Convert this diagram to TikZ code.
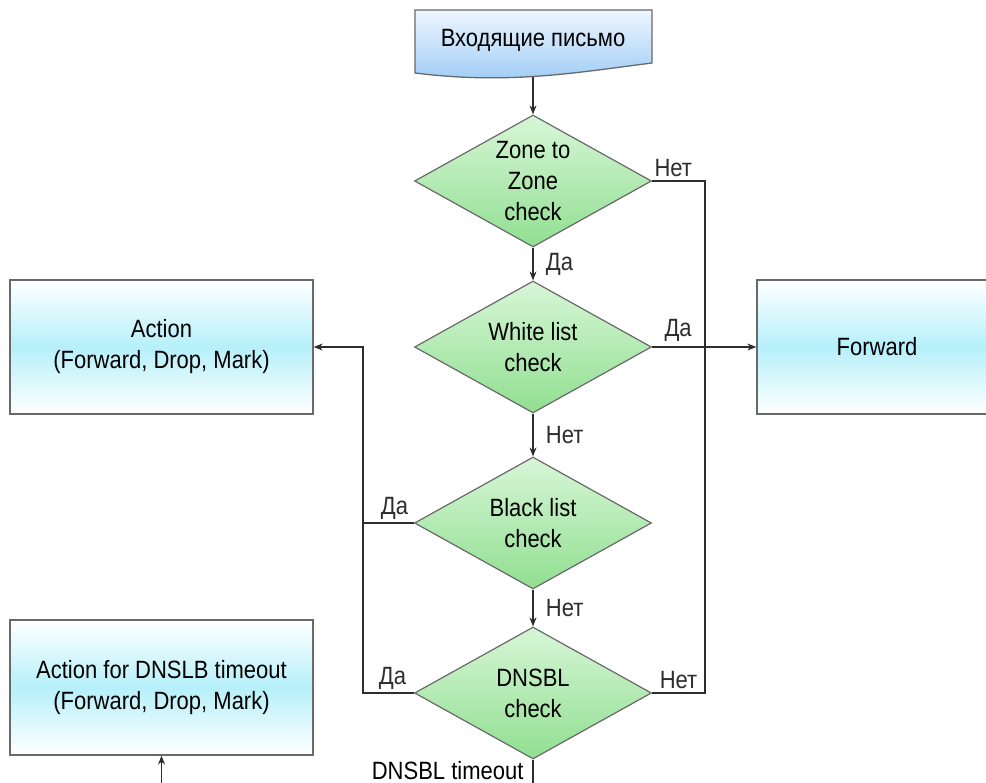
\documentclass[tikz,border=0pt]{standalone}
\usepackage{fontspec}
\setmainfont[FakeStretch=0.88]{Liberation Sans}
\usetikzlibrary{shapes.geometric,arrows.meta}

\begin{document}
\begin{tikzpicture}[x=1pt,y=-1pt,
    every node/.style={font=\fontsize{25}{31}\selectfont},
    box/.style={draw=my_gray,line width=1.3pt,minimum width=303pt,minimum height=134pt,
        align=center,top color=white,bottom color=white,middle color=my_cyan},
    decision/.style={diamond,draw=my_gray,line width=1.2pt,minimum width=237pt,minimum height=132pt,
        aspect=1.8,inner sep=0pt,align=center,top color=my_green_light,bottom color=my_green},
    flow/.style={-{Stealth[length=9pt,width=7pt]},line width=1.1pt,my_gray_dark},
    line/.style={line width=1.1pt,my_gray_dark}]
\definecolor{my_gray}{RGB}{105,105,105}
\definecolor{my_gray_dark}{RGB}{45,45,45}
\definecolor{my_cyan}{RGB}{182,240,250}
\definecolor{my_green}{RGB}{145,223,145}
\definecolor{my_green_light}{RGB}{215,246,215}
\definecolor{my_blue}{RGB}{155,202,245}
\definecolor{my_blue_light}{RGB}{238,246,255}

\useasboundingbox (0,0) rectangle (986,783);
\clip (0,0) rectangle (986,783);

% incoming mail (document shape)
\shade[top color=my_blue_light,bottom color=my_blue,draw=my_gray,line width=1.3pt]
    (415,10) -- (652,10) -- (652,63) .. controls (580,72) and (510,85) .. (415,73) -- cycle;
\node (inbox) at (533,40) {Входящие письмо};
\coordinate (mailend) at (533,77);

\foreach \nm/\y/\txt in {zone/181/{Zone to\\Zone\\check},white/347/{White list\\check},
                         black/523/{Black list\\check},dnsbl/693/{DNSBL\\check}} {
    \node[decision] (\nm) at (533,\y) {\txt};
}

\node[box] (action) at (161.5,347) {Action\\(Forward, Drop, Mark)};
\node[box,minimum width=240pt] (fwd) at (877,347) {Forward};
\node[box,minimum height=135pt] (timeout) at (161.5,687.5) {Action for DNSLB timeout\\(Forward, Drop, Mark)};

\coordinate (lrail) at (363,0);
\coordinate (rrail) at (705,0);

\draw[flow] (mailend) -- (zone.north);
\draw[flow] (zone.south) -- node[right=9pt]{Да} (white.north);
\draw[flow] (white.south) -- node[right=9pt]{Нет} (black.north);
\draw[flow] (black.south) -- node[right=9pt]{Нет} (dnsbl.north);
\draw[flow] (white.east) -- node[above=2pt,pos=0.25]{Да} (fwd.west);
\draw[line] (dnsbl.east) -- node[above]{Нет} (rrail |- dnsbl.east)
    -- (rrail |- zone.east) -- node[above,pos=0.6]{Нет} (zone.east);
\draw[line] (black.west) -- node[above,pos=0.38]{Да} (lrail |- black.west);
\draw[flow] (dnsbl.west) -- node[above,pos=0.42]{Да} (lrail |- dnsbl.west) |- (action.east);
\draw[flow] (dnsbl.south) -- ++(0,40) -| (timeout.south);
\node[anchor=base east] (tmolabel) at (527,779) {DNSBL timeout};
\end{tikzpicture}
\end{document}
